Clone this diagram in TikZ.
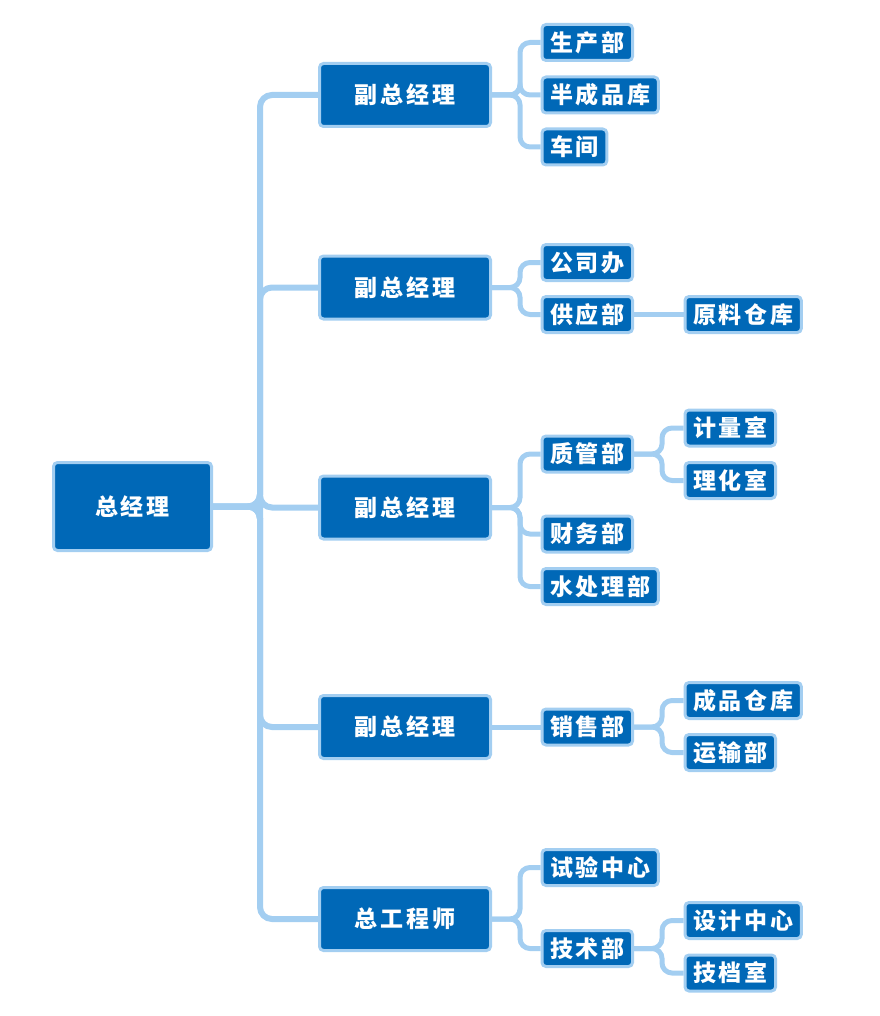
\documentclass[tikz,border=0pt]{standalone}
\usepackage{fontspec}
\setmainfont{Noto Sans CJK SC}[LetterSpace=12]
\usepackage{tikz}
\definecolor{boxblue}{HTML}{0068B7}
\definecolor{linkblue}{HTML}{A3CEF1}
\tikzset{
  box/.style={draw=linkblue, fill=boxblue, line width=3pt, rounded corners=4pt,
    text=white, font=\fontsize{23}{25}\selectfont\bfseries, inner sep=0pt},
  rootbox/.style={box, minimum width=158pt, minimum height=88pt},
  vpbox/.style={box, minimum width=171pt, minimum height=63pt},
  deptbox/.style={box, anchor=west, minimum height=36pt, inner xsep=8pt},
  trunk/.style={draw=linkblue, line width=6pt, rounded corners=12pt},
  link/.style={draw=linkblue, line width=5pt, rounded corners=10pt}
}
\begin{document}
\begin{tikzpicture}[x=1pt, y=-1pt]
    \useasboundingbox (0,0) rectangle (879,1016);

    % top level
    \node[rootbox] (gm) at (132.5, 506.5) {总经理};

    % second level
    \node[vpbox] (vp1) at (405, 95) {副总经理};
    \node[vpbox] (vp2) at (405, 287.5) {副总经理};
    \node[vpbox] (vp3) at (405, 507.5) {副总经理};
    \node[vpbox] (vp4) at (405, 727) {副总经理};
    \node[vpbox] (ce) at (405, 919) {总工程师};

    % departments
    \node[deptbox] (prod) at (540.5, 42.5) {生产部};
    \node[deptbox] (semi) at (540.5, 95) {半成品库};
    \node[deptbox] (shop) at (540.5, 147) {车间};
    \node[deptbox] (office) at (540.5, 262.5) {公司办};
    \node[deptbox] (supply) at (540.5, 314.5) {供应部};
    \node[deptbox] (quality) at (540.5, 454) {质管部};
    \node[deptbox] (finance) at (540.5, 534) {财务部};
    \node[deptbox] (water) at (540.5, 586.5) {水处理部};
    \node[deptbox] (sales) at (540.5, 727) {销售部};
    \node[deptbox] (test) at (540.5, 867.5) {试验中心};
    \node[deptbox] (tech) at (540.5, 948.5) {技术部};

    % third level
    \node[deptbox] (rawstore) at (683.5, 314.5) {原料仓库};
    \node[deptbox] (measure) at (683.5, 428) {计量室};
    \node[deptbox] (lab) at (683.5, 480.5) {理化室};
    \node[deptbox] (goods) at (683.5, 700.5) {成品仓库};
    \node[deptbox] (transport) at (683.5, 752.5) {运输部};
    \node[deptbox] (design) at (683.5, 920.5) {设计中心};
    \node[deptbox] (archive) at (683.5, 973) {技档室};

    % trunk
    \foreach \n in {vp1, vp2, vp3, vp4, ce}
        \draw[trunk] (gm.east) -- ++(47,0) |- (\n.west);

    % branches
    \foreach \n in {prod, semi, shop}
        \draw[link] (vp1.east) -- ++(28,0) |- (\n.west);
    \foreach \n in {office, supply}
        \draw[link] (vp2.east) -- ++(28,0) |- (\n.west);
    \foreach \n in {quality, finance, water}
        \draw[link] (vp3.east) -- ++(28,0) |- (\n.west);
    \draw[link] (vp4.east) -- (sales.west);
    \foreach \n in {test, tech}
        \draw[link] (ce.east) -- ++(28,0) |- (\n.west);

    \draw[link] (supply.east) -- (rawstore.west);
    \foreach \n in {measure, lab}
        \draw[link] (quality.east) -- ++(28,0) |- (\n.west);
    \foreach \n in {goods, transport}
        \draw[link] (sales.east) -- ++(28,0) |- (\n.west);
    \foreach \n in {design, archive}
        \draw[link] (tech.east) -- ++(28,0) |- (\n.west);
\end{tikzpicture}
\end{document}
